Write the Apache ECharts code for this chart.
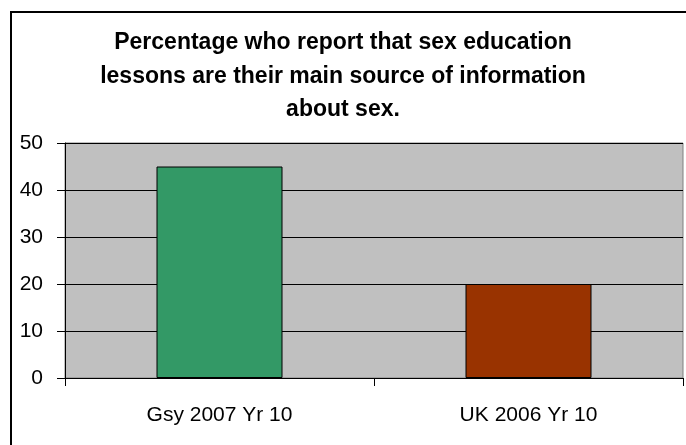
<!DOCTYPE html>
<html>
<head>
<meta charset="utf-8">
<script src="https://cdn.jsdelivr.net/npm/echarts@6/dist/echarts.min.js"></script>
<style>
  html, body { margin: 0; padding: 0; background: #ffffff; }
  #chart { width: 686px; height: 445px; }
</style>
</head>
<body>
<div id="chart"></div>
<script>
// Survey groups and the share (%) naming lessons as their main source
const categories = ['Gsy 2007 Yr 10', 'UK 2006 Yr 10'];
const percentages = [45, 20];
const barColors = ['#339966', '#993300'];

// Value axis ticks
const yMin = 0;
const yMax = 50;
const yStep = 10;

const titleLines = [
  'Percentage who report that sex education',
  'lessons are their main source of information',
  'about sex.'
];

const FONT = '"Liberation Sans", Arial, sans-serif';

const chart = echarts.init(document.getElementById('chart'), null, { renderer: 'canvas' });

chart.setOption({
  backgroundColor: '#ffffff',
  animation: false,
  title: {
    text: titleLines.join('\n'),
    left: 'center',
    top: 26,
    padding: 0,
    textStyle: {
      fontFamily: FONT,
      fontSize: 23,
      fontWeight: 'bold',
      color: '#000000',
      lineHeight: 33.5
    }
  },
  graphic: [
    {
      type: 'rect',
      silent: true,
      shape: { x: 11, y: 12, width: 1000, height: 1000 },
      style: { fill: 'none', stroke: '#000000', lineWidth: 2 }
    }
  ],
  grid: {
    left: 65,
    top: 143,
    right: 3,
    bottom: 67,
    show: true,
    backgroundColor: '#c0c0c0',
    borderColor: '#808080',
    borderWidth: 1
  },
  xAxis: {
    type: 'category',
    data: categories,
    axisLine: { show: true, lineStyle: { color: '#000000', width: 1 } },
    axisTick: { show: true, length: 8, inside: false, lineStyle: { color: '#000000' } },
    axisLabel: {
      fontFamily: FONT,
      fontSize: 21,
      color: '#000000',
      margin: 27
    },
    splitLine: { show: false }
  },
  yAxis: {
    type: 'value',
    min: yMin,
    max: yMax,
    interval: yStep,
    axisLine: { show: true, lineStyle: { color: '#000000', width: 1 } },
    axisTick: { show: true, length: 8, inside: false, lineStyle: { color: '#000000' } },
    axisLabel: {
      fontFamily: FONT,
      fontSize: 21,
      color: '#000000',
      margin: 22
    },
    splitLine: { show: true, lineStyle: { color: '#000000', width: 1 } }
  },
  series: [
    {
      type: 'bar',
      data: percentages.map((v, i) => ({
        value: v,
        itemStyle: { color: barColors[i] }
      })),
      barWidth: 126,
      itemStyle: { borderColor: '#000000', borderWidth: 1 },
      label: { show: false }
    }
  ]
});
</script>
</body>
</html>
